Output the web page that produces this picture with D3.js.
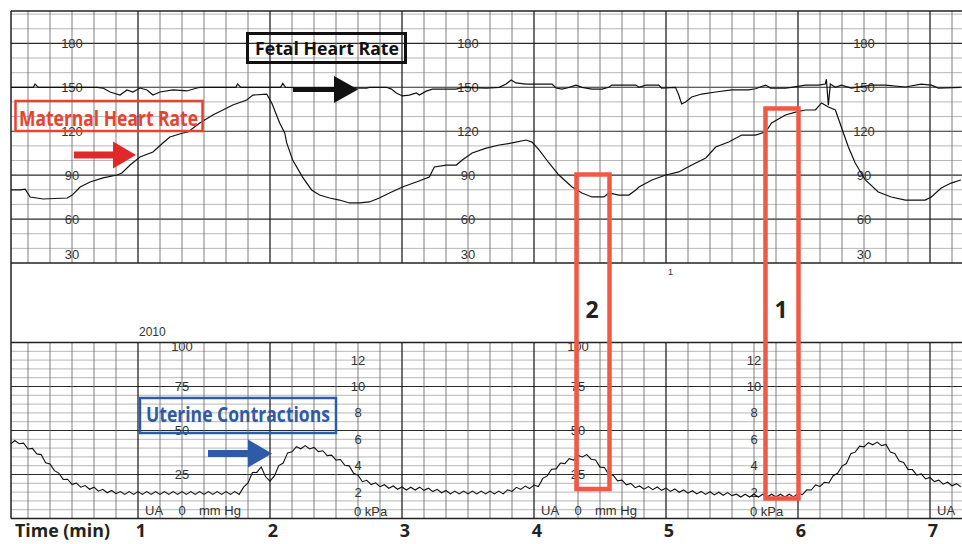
<!DOCTYPE html>
<html>
<head>
<meta charset="utf-8">
<script src="https://cdn.jsdelivr.net/npm/d3@7"></script>
<style>
  body { margin: 0; background: #fff; }
  svg { display: block; }
</style>
</head>
<body>
<svg width="962" height="544"></svg>
<script>
// ---- data (time in seconds from the strip start) ----
var minuteLabels = [1, 2, 3, 4, 5, 6, 7];
var bpmTicks = [180, 150, 120, 90, 60, 30];
var mmHgTicks = [100, 75, 50, 25];
var kPaTicks = [12, 10, 8, 6, 4, 2];
var bpmLabelSec = [30, 210, 390];
var mmHgLabelSec = [80, 260];
var uaLabelSec = [80, 260, 440];
var kPaLabelSec = [160, 340];

// fetal heart rate
var fhrSec = [0, 12.4, 13.2, 14.6, 41.4, 44.1, 47.3, 51.8, 55, 57.7, 60.9, 64.1, 66.8, 70, 75.9, 82.2, 86.8, 88.1,
  104.4, 105.3, 106.7, 124.8, 125.8, 127.1, 163.9, 165.2, 172.9, 175.2, 177.4, 180.2, 183.3, 186.5, 187.9, 191,
  193.8, 204.7, 207.4, 218.3, 224.2, 227.3, 229.6, 231.8, 236.4, 248.2, 250, 252.7, 255, 259.1, 261.8, 266.3,
  270.9, 274, 275.4, 286.3, 287.7, 290.8, 296.7, 298, 304.3, 305.8, 307.1, 308.9, 311.7, 316.2, 322.6, 329.9,
  337.5, 340.7, 345.3, 347.5, 354.3, 357, 363.4, 369.3, 372.4, 372.9, 373.8, 374.7, 377, 379.7, 384.3, 393.3,
  399.7, 408.8, 416, 420.6, 423.8, 434];
var fhrBpm = [150, 150, 152.3, 150, 150, 149.5, 146.8, 144.7, 148.2, 146.8, 149.5, 148.2, 144.7, 146.8, 148.2, 147.5, 149.5, 150,
  150, 152.3, 150, 150, 152.7, 150, 149.5, 150, 150, 148.8, 146.1, 144.1, 144.7, 146.1, 144.7, 147.4,
  148.8, 148.8, 150, 149.5, 150, 152.2, 155, 153, 152.2, 152.2, 149.5, 148.8, 149.5, 151.5, 150, 148.8,
  148.8, 150, 151.5, 151.5, 150, 151.5, 151.5, 149.5, 150, 144.7, 138.6, 140, 143.4, 145.4, 146.8, 148.2,
  148.2, 149, 151.5, 149.5, 149.5, 150, 151.5, 151.5, 152.2, 155.5, 137.7, 152.2, 150, 151.5, 149.5, 151.5,
  151.5, 150.2, 152.2, 151.5, 149.5, 150];

// maternal heart rate
var mhrSec = [0, 2.9, 6.5, 8.7, 11, 16.9, 27.8, 30.1, 33.7, 38.2, 44.1, 50.5, 52.7, 56.4, 60.9, 66.8, 71.3, 74.5,
  80.4, 82.7, 88.1, 94, 103.1, 109.4, 112.2, 118.5, 120.8, 124.4, 126.7, 127.6, 130.3, 134.8, 138.9, 142.5,
  147.1, 151.6, 156.1, 160.7, 165.2, 169.7, 174.3, 180.2, 186.5, 192.4, 194.7, 200.1, 204.7, 207.4, 211.9,
  218.3, 224.2, 230.1, 236.4, 239.1, 242.3, 246.8, 251.3, 257.3, 261.8, 266.3, 271.8, 274, 278.6, 283.1,
  286.3, 287.7, 293.6, 299.9, 305.8, 311.7, 318.1, 322.6, 328.5, 334.4, 340.7, 345.3, 348, 354.3, 358.9,
  363.4, 367.9, 370.7, 373.8, 377, 379.7, 382.9, 386, 390.6, 396.5, 402.4, 408.8, 417.8, 420.6, 425.1, 429.6, 434];
var mhrBpm = [80, 79.9, 79.9, 80.5, 75.1, 73.7, 74.4, 76.4, 81.9, 85.3, 88.1, 90.1, 91.5, 96.9, 102.4, 105.8, 112, 116.1,
  118.8, 119.5, 125.6, 131.1, 137.9, 141.3, 144.7, 145.4, 139.3, 125.6, 118.8, 112, 100.3, 88.7, 79.9, 76.4,
  74.4, 73, 71, 71, 71.7, 74.4, 77.8, 81.9, 85.3, 88.7, 95.6, 96.9, 96.9, 100.3, 105.1,
  108.5, 110.6, 112, 114, 112.6, 107.2, 98.3, 90.1, 81.9, 77.8, 75.1, 75.1, 77.8, 76.4, 76.4,
  79.9, 81.9, 86.7, 90.1, 92.2, 96.9, 101.7, 109.2, 112.6, 117.4, 117.4, 119.5, 125.6, 131.1, 133.1,
  134.5, 134.5, 139.3, 136.5, 134.5, 122.9, 109.2, 98.3, 86.7, 78.5, 75.1, 73, 73, 75.1, 81.2, 84.6, 86.7];

// uterine activity (mm Hg), one reading every 2 s from t = 0
var uaStepSec = 2;
var uaValues = [
  43.8, 42.2, 44.3, 42.5, 42.8, 39.5, 39.8, 36.7, 36.3, 31.7,
  31, 27.2, 25.8, 22.2, 22.3, 19.4, 20.1, 17.8, 18.7, 16.6,
  17.8, 15.5, 16.6, 14.6, 15.9, 14.1, 15.3, 13.7, 15.3, 13.7,
  15.3, 13.7, 15.3, 13.7, 15.3, 13.7, 15.3, 13.7, 15.3, 13.7,
  15.3, 13.7, 15.3, 13.7, 15.3, 13.7, 15.3, 13.7, 15.3, 13.7,
  15.3, 13.7, 15.3, 13.7, 17.8, 20.2, 26.1, 26.2, 29.3, 23.7,
  21.2, 24.2, 30.1, 31.5, 37.3, 37.9, 40.8, 39.6, 41.4, 39.5,
  40.4, 38, 38.5, 35.7, 36, 33.2, 33.5, 30.2, 29.9, 25.7,
  24.6, 20.9, 21.7, 19.3, 20.3, 18.1, 19.2, 17.2, 18.5, 16.6,
  17.9, 16.2, 17.8, 16.2, 17.8, 16, 17.2, 15.3, 16.6, 14.6,
  15.9, 14, 15.6, 14, 15.6, 14, 15.6, 14, 15.6, 14,
  15.6, 14, 15.6, 14, 16.3, 15.4, 17.7, 16.5, 18.4, 17,
  19, 18.2, 22.8, 24.2, 28, 28.2, 31.5, 31.2, 34, 33.2,
  35.8, 35, 36.3, 33.7, 33.3, 29.2, 29, 25, 24.6, 21.4,
  21.8, 19.1, 19.9, 17.5, 18.5, 16.7, 18.1, 16.4, 17.9, 16,
  17.3, 15.4, 16.8, 14.9, 16.2, 14.4, 15.8, 14, 15.4, 13.7,
  15.2, 13.4, 14.9, 13.2, 14.7, 13, 13.8, 12.2, 13.8, 12.2,
  13.8, 12.2, 13.8, 12.2, 13.8, 12.2, 13.8, 12.2, 13.8, 12.3,
  14.3, 13.5, 16.3, 16.2, 19.1, 18.2, 20.6, 20.2, 24.3, 25.7,
  29.8, 31.2, 36.8, 37.7, 41.1, 40.7, 43.1, 41.9, 43.4, 41.4,
  42.1, 37.7, 37, 32.7, 31.8, 27.9, 27.8, 24.7, 25.3, 22.5,
  23.3, 21, 21.8, 19.5, 20.6, 18.6, 19.8, 18
];

// ---- layout ----
var svg = d3.select('svg'),
    width = +svg.attr('width');

var left = 11, topY = 11;
var x = d3.scaleLinear().domain([0, 60]).range([6, 138]);
var yHR = d3.scaleLinear().domain([30, 200]).range([263, 14.1]);
var yUA = d3.scaleLinear().domain([0, 100]).range([518.5, 342.5]);

var gridSec = d3.range(10, 440, 10).filter(function(s) { return x(s) > left && x(s) < width; });

var grid = svg.append('g');

function vLines(y0, y1) {
  grid.selectAll(null)
    .data(gridSec)
    .enter().append('line')
    .attr('x1', function(s) { return x(s); })
    .attr('x2', function(s) { return x(s); })
    .attr('y1', y0)
    .attr('y2', y1)
    .attr('stroke', function(s) { return s % 60 === 0 ? '#222' : '#606060'; })
    .attr('stroke-width', function(s) { return s % 60 === 0 ? 1.3 : 0.8; });
}

function hLines(values, scale, isMajor) {
  grid.selectAll(null)
    .data(values)
    .enter().append('line')
    .attr('x1', left)
    .attr('x2', width)
    .attr('y1', function(v) { return scale(v); })
    .attr('y2', function(v) { return scale(v); })
    .attr('stroke', function(v) { return isMajor(v) ? '#2a2a2a' : '#999'; })
    .attr('stroke-width', function(v) { return isMajor(v) ? 1.1 : 0.7; });
}

// heart rate panel grid
hLines(d3.range(40, 201, 10), yHR, function(v) { return v % 30 === 0; });
vLines(topY, yHR(30));
grid.append('line').attr('x1', left).attr('x2', width).attr('y1', topY).attr('y2', topY)
  .attr('stroke', '#222').attr('stroke-width', 1.3);
grid.append('line').attr('x1', left).attr('x2', width).attr('y1', yHR(30)).attr('y2', yHR(30))
  .attr('stroke', '#222').attr('stroke-width', 1.3);

// uterine activity panel grid
hLines(d3.range(5, 100, 5), yUA, function(v) { return v % 25 === 0; });
vLines(yUA(100), yUA(0));
[0, 100].forEach(function(v) {
  grid.append('line').attr('x1', left).attr('x2', width).attr('y1', yUA(v)).attr('y2', yUA(v))
    .attr('stroke', '#222').attr('stroke-width', 1.3);
});

// left border of the paper
grid.append('line').attr('x1', left).attr('x2', left).attr('y1', topY).attr('y2', yUA(0))
  .attr('stroke', '#222').attr('stroke-width', 1.5);

// ---- printed scale labels ----
var labels = svg.append('g')
  .attr('font-family', 'Liberation Sans, Arial, sans-serif')
  .attr('font-size', 13)
  .attr('fill', '#333');

bpmLabelSec.forEach(function(s) {
  labels.selectAll(null)
    .data(bpmTicks)
    .enter().append('text')
    .attr('x', x(s))
    .attr('y', function(v) { return v === 30 ? 254 : yHR(v); })
    .attr('text-anchor', 'middle')
    .attr('dominant-baseline', 'central')
    .text(function(v) { return v; });
});

mmHgLabelSec.forEach(function(s) {
  labels.selectAll(null)
    .data(mmHgTicks)
    .enter().append('text')
    .attr('x', x(s))
    .attr('y', function(v) { return v === 100 ? yUA(v) + 4 : yUA(v); })
    .attr('text-anchor', 'middle')
    .attr('dominant-baseline', 'central')
    .text(function(v) { return v; });
  labels.append('text').attr('x', x(s)).attr('y', 510)
    .attr('text-anchor', 'middle').attr('dominant-baseline', 'central').text('0');
  labels.append('text').attr('x', x(s) + 17).attr('y', 510)
    .attr('dominant-baseline', 'central').text('mm Hg');
});

uaLabelSec.forEach(function(s) {
  labels.append('text').attr('x', x(s) - 37).attr('y', 510)
    .attr('dominant-baseline', 'central').text('UA');
});

kPaLabelSec.forEach(function(s) {
  labels.selectAll(null)
    .data(kPaTicks)
    .enter().append('text')
    .attr('x', x(s))
    .attr('y', function(v) { return yUA(v * 7.5); })
    .attr('text-anchor', 'middle')
    .attr('dominant-baseline', 'central')
    .text(function(v) { return v; });
  labels.append('text').attr('x', x(s) - 4).attr('y', 511)
    .attr('dominant-baseline', 'central').text('0 kPa');
});

labels.append('text').attr('x', 139).attr('y', 332).attr('font-size', 12)
  .attr('dominant-baseline', 'central').text('2010');
labels.append('text').attr('x', 668).attr('y', 272).attr('font-size', 9)
  .attr('dominant-baseline', 'central').text('1');

// ---- traces ----
svg.append('clipPath').attr('id', 'clipHR').append('rect')
  .attr('x', left).attr('y', topY).attr('width', width - left).attr('height', yHR(30) - topY);
svg.append('clipPath').attr('id', 'clipUA').append('rect')
  .attr('x', left).attr('y', yUA(100)).attr('width', width - left).attr('height', yUA(0) - yUA(100));

var hrLine = d3.line()
  .x(function(d) { return x(d[0]); })
  .y(function(d) { return yHR(d[1]); });

var uaLine = d3.line()
  .x(function(d, i) { return x(i * uaStepSec); })
  .y(function(d) { return yUA(d); });

var fhr = fhrSec.map(function(s, i) { return [s, fhrBpm[i]]; });
var mhr = mhrSec.map(function(s, i) { return [s, mhrBpm[i]]; });

svg.append('path')
  .attr('clip-path', 'url(#clipHR)')
  .attr('d', hrLine(fhr))
  .attr('fill', 'none').attr('stroke', '#111').attr('stroke-width', 1.2);

svg.append('path')
  .attr('clip-path', 'url(#clipHR)')
  .attr('d', hrLine(mhr))
  .attr('fill', 'none').attr('stroke', '#111').attr('stroke-width', 1.2);

svg.append('path')
  .attr('clip-path', 'url(#clipUA)')
  .attr('d', uaLine(uaValues))
  .attr('fill', 'none').attr('stroke', '#111').attr('stroke-width', 1.1);

// ---- time axis ----
var timeAxis = svg.append('g')
  .attr('font-family', 'Open Sans, sans-serif')
  .attr('font-weight', 700)
  .attr('font-size', 18)
  .attr('fill', '#222');

timeAxis.append('text').attr('x', 15).attr('y', 537)
  .attr('textLength', 95).attr('lengthAdjust', 'spacingAndGlyphs')
  .text('Time (min)');

timeAxis.selectAll(null)
  .data(minuteLabels)
  .enter().append('text')
  .attr('x', function(m) { return x(m * 60) + 3; })
  .attr('y', 537)
  .attr('text-anchor', 'middle')
  .text(function(m) { return m; });

// ---- annotations ----
var red = '#e8432f', blue = '#2d5ba8', salmon = '#f05a45';

function arrow(x0, xh, x1, y, sh, hh, color) {
  var pts = [[x0, y - sh / 2], [xh, y - sh / 2], [xh, y - hh / 2], [x1, y],
             [xh, y + hh / 2], [xh, y + sh / 2], [x0, y + sh / 2]];
  svg.append('polygon')
    .attr('points', pts.map(function(p) { return p.join(','); }).join(' '))
    .attr('fill', color);
}

function labelBox(x0, y0, w, h, color, sw, text, tx, ty, size, len) {
  svg.append('rect')
    .attr('x', x0).attr('y', y0).attr('width', w).attr('height', h)
    .attr('fill', 'none').attr('stroke', color).attr('stroke-width', sw);
  svg.append('text')
    .attr('x', tx).attr('y', ty)
    .attr('font-family', 'Open Sans, sans-serif')
    .attr('font-weight', 700)
    .attr('font-size', size)
    .attr('fill', color)
    .attr('textLength', len)
    .attr('lengthAdjust', 'spacingAndGlyphs')
    .text(text);
}

labelBox(247.5, 33.5, 158, 29, '#111', 3, 'Fetal Heart Rate', 255, 55, 18.5, 144);
arrow(293, 334, 358, 89.5, 5, 27, '#111');

labelBox(15.5, 101, 187, 30, red, 2.5, 'Maternal Heart Rate', 19, 125.5, 21.5, 179);
arrow(74, 113, 136, 155, 7, 27, '#e02a2a');

labelBox(140, 398, 196, 35, blue, 2.5, 'Uterine Contractions', 146, 422, 21, 184);
arrow(208, 248, 272, 453.5, 7, 28, blue);

// marked windows
svg.append('rect').attr('x', 576.5).attr('y', 174.5).attr('width', 33).attr('height', 314.5)
  .attr('fill', 'none').attr('stroke', salmon).attr('stroke-width', 4.5);
svg.append('rect').attr('x', 765.5).attr('y', 108.5).attr('width', 33).attr('height', 390)
  .attr('fill', 'none').attr('stroke', salmon).attr('stroke-width', 4.5);

svg.selectAll(null)
  .data([['2', 592], ['1', 781]])
  .enter().append('text')
  .attr('x', function(d) { return d[1]; })
  .attr('y', 318)
  .attr('text-anchor', 'middle')
  .attr('font-family', 'Open Sans, sans-serif')
  .attr('font-weight', 700)
  .attr('font-size', 23)
  .attr('fill', '#222')
  .text(function(d) { return d[0]; });
</script>
</body>
</html>
